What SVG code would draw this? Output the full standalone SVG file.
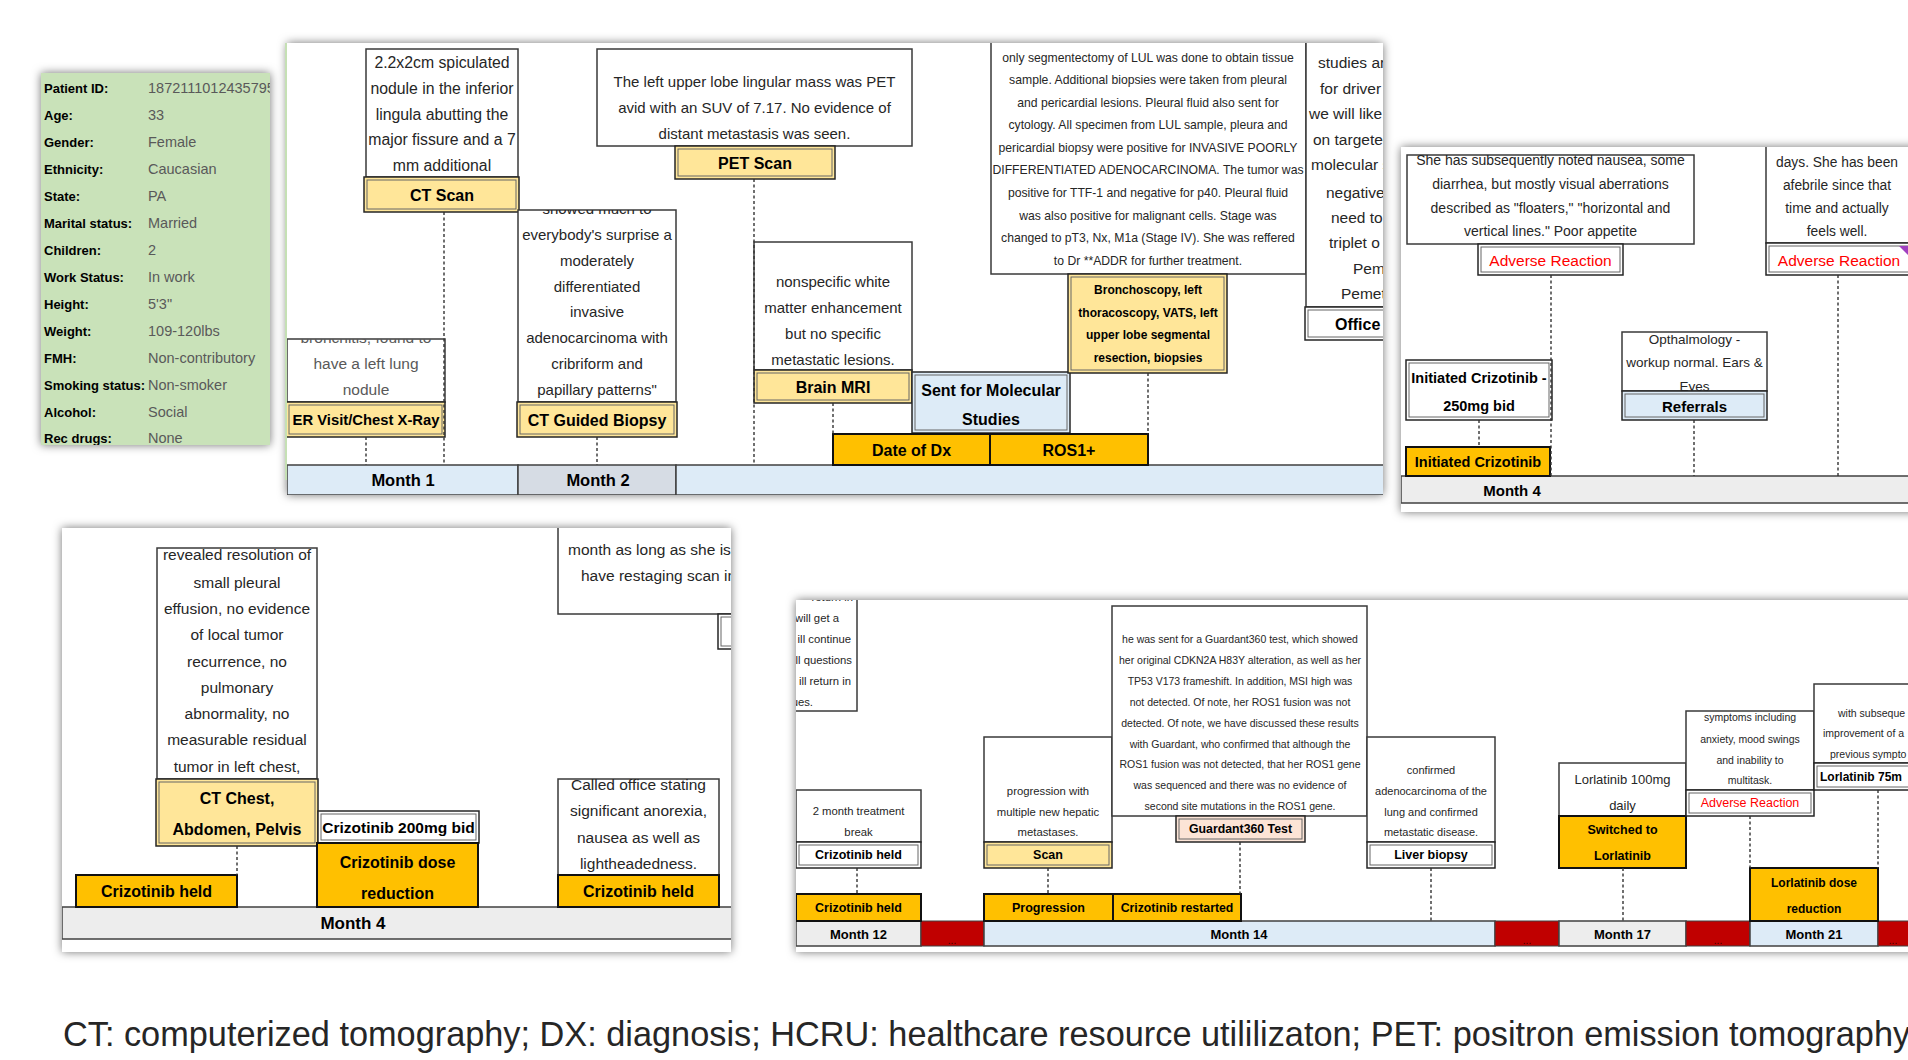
<svg xmlns="http://www.w3.org/2000/svg" width="1908" height="1060" viewBox="0 0 1908 1060">
<defs>
<filter id="sh" x="-10%" y="-10%" width="120%" height="120%"><feDropShadow dx="0" dy="0" stdDeviation="5" flood-color="#000" flood-opacity="0.55"/></filter>
<clipPath id="cPat"><rect x="41" y="73" width="229" height="372"/></clipPath>
<clipPath id="cTop"><rect x="287" y="43" width="1096" height="452"/></clipPath>
<clipPath id="cRt"><rect x="1401" y="147" width="507" height="365"/></clipPath>
<clipPath id="cBL"><rect x="62" y="528" width="669" height="424"/></clipPath>
<clipPath id="cBR"><rect x="796" y="600" width="1112" height="352"/></clipPath>
<clipPath id="kER"><rect x="287" y="339" width="158" height="63"/></clipPath>
<clipPath id="kBio"><rect x="518" y="210" width="158" height="192"/></clipPath>
<clipPath id="kAR1"><rect x="1407" y="155" width="287" height="89"/></clipPath>
<clipPath id="kRef"><rect x="1622" y="332" width="145" height="59"/></clipPath>
<clipPath id="kCTC"><rect x="157" y="548" width="160" height="231"/></clipPath>
<clipPath id="kCH"><rect x="558" y="779" width="161" height="96"/></clipPath>
<clipPath id="kAR3"><rect x="1686" y="711" width="128" height="79"/></clipPath>
<style>
.pn{fill:#fff;filter:url(#sh)}
.tb{fill:#fff;stroke:#3a3a3a;stroke-width:1.5}
.lo{stroke:#262626;stroke-width:1.5}
.li{fill:none;stroke:#666;stroke-width:1}
.ly{fill:#FFE699}
.lw{fill:#fff}
.lbl{fill:#DDEBF7}
.lpk{fill:#FCE4D6}
.or{fill:#FFC000;stroke:#111;stroke-width:2}
.red{fill:#C00000;stroke:#404040;stroke-width:1}
.mg{fill:#EDEDED;stroke:#404040;stroke-width:1.5}
.mb{fill:#DDEBF7;stroke:#404040;stroke-width:1.5}
.ms{fill:#D6DCE4;stroke:#404040;stroke-width:1.5}
.dt{stroke:#333;stroke-width:1.4;stroke-dasharray:3 2.5;fill:none}
text{font-family:'Liberation Sans',Arial,sans-serif;dominant-baseline:central}
.c{text-anchor:middle}
.e{text-anchor:end}
.d{fill:#262626}
.g{fill:#595959}
.b{font-weight:bold;fill:#000}
.r{fill:#FF0000}
</style>
</defs>
<rect x="0" y="0" width="1908" height="1060" fill="#fff"/>

<!-- Patient panel -->
<g id="patient-info">
<rect x="41" y="73" width="229" height="372" fill="#C9E2B9" filter="url(#sh)"/>
<g clip-path="url(#cPat)">
<g class="b" font-size="13">
<text x="44" y="88">Patient ID:</text><text x="44" y="115">Age:</text><text x="44" y="142">Gender:</text><text x="44" y="169">Ethnicity:</text><text x="44" y="196">State:</text><text x="44" y="223">Marital status:</text><text x="44" y="250">Children:</text><text x="44" y="277">Work Status:</text><text x="44" y="304">Height:</text><text x="44" y="331">Weight:</text><text x="44" y="358">FMH:</text><text x="44" y="385">Smoking status:</text><text x="44" y="412">Alcohol:</text><text x="44" y="438">Rec drugs:</text>
</g>
<g class="g" font-size="14.5">
<text x="148" y="88">18721110124357950</text><text x="148" y="115">33</text><text x="148" y="142">Female</text><text x="148" y="169">Caucasian</text><text x="148" y="196">PA</text><text x="148" y="223">Married</text><text x="148" y="250">2</text><text x="148" y="277">In work</text><text x="148" y="304">5'3"</text><text x="148" y="331">109-120lbs</text><text x="148" y="358">Non-contributory</text><text x="148" y="385">Non-smoker</text><text x="148" y="412">Social</text><text x="148" y="438">None</text>
</g>
</g>
</g>

<!-- Panel backgrounds -->
<rect class="pn" x="287" y="43" width="1096" height="452"/>
<rect class="pn" x="1401" y="147" width="520" height="365"/>
<rect class="pn" x="62" y="528" width="669" height="424"/>
<rect class="pn" x="796" y="600" width="1125" height="352"/>
<line x1="286" y1="43" x2="286" y2="480" stroke="#C5E0B4" stroke-width="2"/>

<!-- TOP PANEL -->
<g clip-path="url(#cTop)">
<g id="month-row-top">
<rect class="mb" x="287" y="465" width="231" height="30"/>
<rect class="ms" x="518" y="465" width="158" height="30"/>
<rect class="mb" x="676" y="465" width="720" height="30"/>
<text class="c b" font-size="16.5" x="403" y="480">Month 1</text>
<text class="c b" font-size="16.5" x="598" y="480">Month 2</text>
</g>
<g id="er-visit">
<rect class="tb" x="287" y="339" width="158" height="63"/>
<g clip-path="url(#kER)" class="c g" font-size="15.5"><text x="366" y="337">bronchitis, found to</text><text x="366" y="363">have a left lung</text><text x="366" y="389">nodule</text></g>
<rect class="lo ly" x="286" y="402" width="159" height="35"/><rect class="li" x="289" y="405" width="153" height="29"/>
<text class="c b" font-size="14.8" x="366" y="420">ER Visit/Chest X-Ray</text>
</g>
<g id="ct-scan">
<rect class="tb" x="366" y="49" width="152" height="128"/>
<g class="c d" font-size="15.8"><text x="442" y="62">2.2x2cm spiculated</text><text x="442" y="88">nodule in the inferior</text><text x="442" y="114">lingula abutting the</text><text x="442" y="139">major fissure and a 7</text><text x="442" y="165">mm additional</text></g>
<rect class="lo ly" x="364" y="177" width="155" height="35"/><rect class="li" x="367" y="180" width="149" height="29"/>
<text class="c b" font-size="16" x="442" y="195">CT Scan</text>
</g>
<g id="ct-guided-biopsy">
<rect class="tb" x="518" y="210" width="158" height="192"/>
<g clip-path="url(#kBio)" class="c d" font-size="15"><text x="597" y="208">showed much to</text><text x="597" y="234">everybody's surprise a</text><text x="597" y="260">moderately</text><text x="597" y="286">differentiated</text><text x="597" y="311">invasive</text><text x="597" y="337">adenocarcinoma with</text><text x="597" y="363">cribriform and</text><text x="597" y="389">papillary patterns"</text></g>
<rect class="lo ly" x="517" y="402" width="160" height="35"/><rect class="li" x="520" y="405" width="154" height="29"/>
<text class="c b" font-size="16" x="597" y="420">CT Guided Biopsy</text>
</g>
<g id="pet-scan">
<rect class="tb" x="597" y="49" width="315" height="97"/>
<g class="c d" font-size="15" xml:space="preserve"><text x="754.5" y="81">The left upper lobe lingular mass was PET</text><text x="754.5" y="107">avid with an SUV of 7.17.  No evidence of</text><text x="754.5" y="133">distant metastasis was seen.</text></g>
<rect class="lo ly" x="675" y="146" width="160" height="33"/><rect class="li" x="678" y="149" width="154" height="27"/>
<text class="c b" font-size="16" x="755" y="163">PET Scan</text>
</g>
<g id="brain-mri">
<rect class="tb" x="754" y="242" width="158" height="128"/>
<g class="c d" font-size="15"><text x="833" y="281">nonspecific white</text><text x="833" y="307">matter enhancement</text><text x="833" y="333">but no specific</text><text x="833" y="359">metastatic lesions.</text></g>
<rect class="lo ly" x="754" y="370" width="158" height="33"/><rect class="li" x="757" y="373" width="152" height="27"/>
<text class="c b" font-size="16" x="833" y="387">Brain MRI</text>
</g>
<g id="molecular-studies">
<rect class="lo lbl" x="912" y="372" width="158" height="61"/><rect class="li" x="915" y="375" width="152" height="55"/>
<text class="c b" font-size="16" x="991" y="390">Sent for Molecular</text>
<text class="c b" font-size="16" x="991" y="419">Studies</text>
</g>
<g id="date-of-dx">
<rect class="or" x="833" y="434" width="157" height="31"/>
<text class="c b" font-size="16" x="911.5" y="450">Date of Dx</text>
</g>
<g id="ros1">
<rect class="or" x="990" y="434" width="158" height="31"/>
<text class="c b" font-size="16" x="1069" y="450">ROS1+</text>
</g>
<g id="bronchoscopy">
<rect class="tb" x="991" y="35" width="315" height="239"/>
<g class="c d" font-size="12.2"><text x="1148" y="57.5">only segmentectomy of LUL was done to obtain tissue</text><text x="1148" y="80">sample. Additional biopsies were taken from pleural</text><text x="1148" y="103">and pericardial lesions. Pleural fluid also sent for</text><text x="1148" y="125">cytology. All specimen from LUL sample, pleura and</text><text x="1148" y="148">pericardial biopsy were positive for INVASIVE POORLY</text><text x="1148" y="170">DIFFERENTIATED ADENOCARCINOMA. The tumor was</text><text x="1148" y="193">positive for TTF-1 and negative for p40. Pleural fluid</text><text x="1148" y="216">was also positive for malignant cells. Stage was</text><text x="1148" y="238">changed to pT3, Nx, M1a (Stage IV). She was reffered</text><text x="1148" y="261">to Dr **ADDR for further treatment.</text></g>
<rect class="lo ly" x="1068" y="274" width="159" height="99"/><rect class="li" x="1071" y="277" width="153" height="93"/>
<g class="c b" font-size="12"><text x="1148" y="290">Bronchoscopy, left</text><text x="1148" y="313">thoracoscopy, VATS, left</text><text x="1148" y="335">upper lobe segmental</text><text x="1148" y="358">resection, biopsies</text></g>
</g>
<g id="office-visit">
<rect class="tb" x="1306" y="35" width="100" height="272"/>
<g class="d" font-size="15.5"><text x="1318" y="62">studies ar</text><text x="1320" y="88">for driver</text><text x="1309" y="113">we will like</text><text x="1313" y="139">on targeted</text><text x="1311" y="164">molecular s</text><text x="1326" y="192">negative</text><text x="1331" y="217">need to</text><text x="1329" y="242">triplet o</text><text x="1353" y="268">Peml</text><text x="1341" y="293">Pemetr</text></g>
<rect class="lo lw" x="1305" y="307" width="100" height="33"/><rect class="li" x="1308" y="310" width="94" height="27"/>
<text class="b" font-size="16" x="1335" y="324">Office</text>
</g>
</g>

<!-- RIGHT PANEL -->
<g clip-path="url(#cRt)">
<g id="month-row-right">
<rect class="mg" x="1401" y="476" width="520" height="27"/>
<text class="c b" font-size="15" x="1512" y="490">Month 4</text>
</g>
<g id="adverse-reaction-1">
<rect class="tb" x="1407" y="155" width="287" height="89"/>
<g clip-path="url(#kAR1)" class="c d" font-size="14"><text x="1550.5" y="160">She has subsequently noted nausea, some</text><text x="1550.5" y="184">diarrhea, but mostly visual aberrations</text><text x="1550.5" y="208">described as "floaters," "horizontal and</text><text x="1550.5" y="231">vertical lines." Poor appetite</text></g>
<rect class="lo lw" x="1478" y="244" width="145" height="31"/><rect class="li" x="1481" y="247" width="139" height="25"/>
<text class="c r" font-size="15.5" x="1550.5" y="260">Adverse Reaction</text>
</g>
<g id="initiated-crizotinib-250">
<rect class="lo lw" x="1406" y="360" width="146" height="60"/><rect class="li" x="1409" y="363" width="140" height="54"/>
<text class="c b" font-size="14.5" x="1479" y="378">Initiated Crizotinib -</text>
<text class="c b" font-size="14.5" x="1479" y="406">250mg bid</text>
</g>
<g id="initiated-crizotinib">
<rect class="or" x="1406" y="447" width="144" height="29"/>
<text class="c b" font-size="14.5" x="1478" y="462">Initiated Crizotinib</text>
</g>
<g id="referrals">
<rect class="tb" x="1622" y="332" width="145" height="59"/>
<g clip-path="url(#kRef)" class="c d" font-size="13.5"><text x="1694.5" y="339">Opthalmology -</text><text x="1694.5" y="362">workup normal. Ears &amp;</text><text x="1694.5" y="386">Eyes</text></g>
<rect class="lo lbl" x="1622" y="391" width="145" height="29"/><rect class="li" x="1625" y="394" width="139" height="23"/>
<text class="c b" font-size="15" x="1694.5" y="406">Referrals</text>
</g>
<g id="adverse-reaction-2">
<rect class="tb" x="1766" y="140" width="170" height="103"/>
<g class="c d" font-size="13.8" xml:space="preserve"><text x="1837" y="162">days.  She has been</text><text x="1837" y="185">afebrile since that</text><text x="1837" y="208">time and actually</text><text x="1837" y="231">feels well.</text></g>
<rect class="lo lw" x="1766" y="243" width="170" height="32"/><rect class="li" x="1769" y="246" width="164" height="26"/>
<text class="c r" font-size="15.5" x="1839" y="260">Adverse Reaction</text>
<path d="M1899 246 L1908 246 L1908 255 Z" fill="#A040C0"/>
</g>
</g>

<!-- BOTTOM-LEFT PANEL -->
<g clip-path="url(#cBL)">
<g id="month-row-bl">
<rect class="mg" x="62" y="907" width="680" height="32"/>
<text class="c b" font-size="17" x="353" y="923">Month 4</text>
</g>
<g id="ct-chest">
<rect class="tb" x="157" y="548" width="160" height="231"/>
<g clip-path="url(#kCTC)" class="c d" font-size="15.5"><text x="237" y="554">revealed resolution of</text><text x="237" y="582">small pleural</text><text x="237" y="608">effusion, no evidence</text><text x="237" y="634">of local tumor</text><text x="237" y="661">recurrence, no</text><text x="237" y="687">pulmonary</text><text x="237" y="713">abnormality, no</text><text x="237" y="739">measurable residual</text><text x="237" y="766">tumor in left chest,</text></g>
<rect class="lo ly" x="156" y="779" width="162" height="67"/><rect class="li" x="159" y="782" width="156" height="61"/>
<text class="c b" font-size="16" x="237" y="798">CT Chest,</text>
<text class="c b" font-size="16" x="237" y="829">Abdomen, Pelvis</text>
</g>
<g id="crizotinib-held-1">
<rect class="or" x="76" y="875" width="161" height="32"/>
<text class="c b" font-size="16" x="156.5" y="891">Crizotinib held</text>
</g>
<g id="crizotinib-200">
<rect class="lo lw" x="318" y="811" width="161" height="32"/><rect class="li" x="321" y="814" width="155" height="26"/>
<text class="c b" font-size="15.5" x="398.5" y="827">Crizotinib 200mg bid</text>
</g>
<g id="crizotinib-dose-reduction">
<rect class="or" x="317" y="843" width="161" height="64"/>
<text class="c b" font-size="16" x="397.5" y="862">Crizotinib dose</text>
<text class="c b" font-size="16" x="397.5" y="893">reduction</text>
</g>
<g id="restaging-note">
<rect class="tb" x="558" y="520" width="200" height="94"/>
<g class="d" font-size="15.5"><text x="568" y="549">month as long as she is</text><text x="581" y="575">have restaging scan in</text></g>
<rect class="lo lw" x="718" y="614" width="30" height="35"/><rect class="li" x="721" y="617" width="24" height="29"/>
</g>
<g id="crizotinib-held-2">
<rect class="tb" x="558" y="779" width="161" height="96"/>
<g clip-path="url(#kCH)" class="c d" font-size="15.5"><text x="638.5" y="784">Called office stating</text><text x="638.5" y="810">significant anorexia,</text><text x="638.5" y="837">nausea as well as</text><text x="638.5" y="863">lightheadedness.</text></g>
<rect class="or" x="558" y="875" width="161" height="32"/>
<text class="c b" font-size="16" x="638.5" y="891">Crizotinib held</text>
</g>
</g>

<!-- BOTTOM-RIGHT PANEL -->
<g clip-path="url(#cBR)">
<g id="month-row-br">
<rect class="mg" x="796" y="921" width="125" height="25"/>
<rect class="red" x="921" y="921" width="63" height="25"/>
<rect class="mb" x="984" y="921" width="511" height="25"/>
<rect class="red" x="1495" y="921" width="64" height="25"/>
<rect class="mg" x="1559" y="921" width="127" height="25"/>
<rect class="red" x="1686" y="921" width="64" height="25"/>
<rect class="mb" x="1750" y="921" width="128" height="25"/>
<rect class="red" x="1878" y="921" width="40" height="25"/>
<g class="c b" font-size="13"><text x="858.5" y="934">Month 12</text><text x="1239" y="934">Month 14</text><text x="1622.5" y="934">Month 17</text><text x="1814" y="934">Month 21</text></g>
<g class="c" font-size="10" fill="#3a0000"><text x="952" y="940">...</text><text x="1527" y="940">...</text><text x="1718" y="940">...</text><text x="1893" y="940">...</text></g>
</g>
<g id="return-note">
<rect class="tb" x="700" y="592" width="157" height="119"/>
<g class="e d" font-size="11.3"><text x="853" y="597">return in</text><text x="839" y="618">will get a</text><text x="851" y="639">ill continue</text><text x="852" y="660">ll questions</text><text x="851" y="681">ill return in</text><text x="813" y="702">ues.</text></g>
</g>
<g id="crizotinib-held-m12">
<rect class="tb" x="796" y="790" width="125" height="52"/>
<g class="c d" font-size="11.3"><text x="858.5" y="811">2 month treatment</text><text x="858.5" y="832">break</text></g>
<rect class="lo lw" x="796" y="842" width="125" height="26"/><rect class="li" x="799" y="845" width="119" height="20"/>
<text class="c b" font-size="12.5" x="858.5" y="855">Crizotinib held</text>
</g>
<g id="crizotinib-held-bar">
<rect class="or" x="796" y="894" width="125" height="27"/>
<text class="c b" font-size="12.5" x="858.5" y="907.5">Crizotinib held</text>
</g>
<g id="scan">
<rect class="tb" x="984" y="737" width="128" height="105"/>
<g class="c d" font-size="11.3"><text x="1048" y="791">progression with</text><text x="1048" y="812">multiple new hepatic</text><text x="1048" y="832">metastases.</text></g>
<rect class="lo ly" x="984" y="842" width="128" height="26"/><rect class="li" x="987" y="845" width="122" height="20"/>
<text class="c b" font-size="12.5" x="1048" y="855">Scan</text>
</g>
<g id="progression">
<rect class="or" x="984" y="894" width="129" height="27"/>
<text class="c b" font-size="12.5" x="1048.5" y="907.5">Progression</text>
</g>
<g id="crizotinib-restarted">
<rect class="or" x="1113" y="894" width="128" height="27"/>
<text class="c b" font-size="12.3" x="1177" y="907.5">Crizotinib restarted</text>
</g>
<g id="guardant360">
<rect class="tb" x="1112" y="606" width="255" height="210"/>
<g class="c d" font-size="10.5"><text x="1240" y="639">he was sent for a Guardant360 test, which showed</text><text x="1240" y="660">her original CDKN2A H83Y alteration, as well as her</text><text x="1240" y="681">TP53 V173 frameshift. In addition, MSI high was</text><text x="1240" y="702">not detected. Of note, her ROS1 fusion was not</text><text x="1240" y="723">detected. Of note, we have discussed these results</text><text x="1240" y="744">with Guardant, who confirmed that although the</text><text x="1240" y="764">ROS1 fusion was not detected, that her ROS1 gene</text><text x="1240" y="785">was sequenced and there was no evidence of</text><text x="1240" y="806">second site mutations in the ROS1 gene.</text></g>
<rect class="lo lpk" x="1176" y="816" width="129" height="26"/><rect class="li" x="1179" y="819" width="123" height="20"/>
<text class="c b" font-size="12.3" x="1240.5" y="829">Guardant360 Test</text>
</g>
<g id="liver-biopsy">
<rect class="tb" x="1367" y="737" width="128" height="105"/>
<g class="c d" font-size="11"><text x="1431" y="770">confirmed</text><text x="1431" y="791">adenocarcinoma of the</text><text x="1431" y="812">lung and confirmed</text><text x="1431" y="832">metastatic disease.</text></g>
<rect class="lo lw" x="1367" y="842" width="128" height="26"/><rect class="li" x="1370" y="845" width="122" height="20"/>
<text class="c b" font-size="12.5" x="1431" y="855">Liver biopsy</text>
</g>
<g id="switched-lorlatinib">
<rect class="tb" x="1559" y="763" width="127" height="53"/>
<g class="c d" font-size="13"><text x="1622.5" y="779">Lorlatinib 100mg</text><text x="1622.5" y="805">daily</text></g>
<rect class="or" x="1559" y="816" width="127" height="52"/>
<text class="c b" font-size="12.5" x="1622.5" y="830">Switched to</text>
<text class="c b" font-size="12.5" x="1622.5" y="856">Lorlatinib</text>
</g>
<g id="adverse-reaction-3">
<rect class="tb" x="1686" y="711" width="128" height="79"/>
<g clip-path="url(#kAR3)" class="c d" font-size="10.5"><text x="1750" y="717">symptoms including</text><text x="1750" y="739">anxiety, mood swings</text><text x="1750" y="760">and inability to</text><text x="1750" y="780">multitask.</text></g>
<rect class="lo lw" x="1686" y="790" width="128" height="26"/><rect class="li" x="1689" y="793" width="122" height="20"/>
<text class="c r" font-size="12.5" x="1750" y="803">Adverse Reaction</text>
</g>
<g id="lorlatinib-dose-reduction">
<rect class="or" x="1750" y="868" width="128" height="53"/>
<text class="c b" font-size="12" x="1814" y="883">Lorlatinib dose</text>
<text class="c b" font-size="12" x="1814" y="909">reduction</text>
</g>
<g id="lorlatinib-75">
<rect class="tb" x="1814" y="684" width="120" height="79"/>
<g class="d" font-size="10.5"><text x="1838" y="713">with subseque</text><text x="1823" y="733">improvement of a</text><text x="1830" y="754">previous sympto</text></g>
<rect class="lo lw" x="1814" y="763" width="120" height="27"/><rect class="li" x="1817" y="766" width="114" height="21"/>
<text class="b" font-size="12" x="1820" y="777">Lorlatinib 75m</text>
</g>
</g>

<!-- Connectors -->
<g id="connectors" class="dt">
<line x1="366" y1="437" x2="366" y2="465"/>
<line x1="444" y1="212" x2="444" y2="465"/>
<line x1="597" y1="437" x2="597" y2="465"/>
<line x1="754" y1="179" x2="754" y2="465"/>
<line x1="833" y1="403" x2="833" y2="434"/>
<line x1="1148" y1="373" x2="1148" y2="434"/>
<line x1="1551" y1="275" x2="1551" y2="476"/>
<line x1="1479" y1="420" x2="1479" y2="447"/>
<line x1="1694" y1="420" x2="1694" y2="476"/>
<line x1="1838" y1="275" x2="1838" y2="476"/>
<line x1="237" y1="846" x2="237" y2="875"/>
<line x1="857" y1="868" x2="857" y2="894"/>
<line x1="1048" y1="868" x2="1048" y2="894"/>
<line x1="1240" y1="842" x2="1240" y2="894"/>
<line x1="1431" y1="868" x2="1431" y2="921"/>
<line x1="1623" y1="868" x2="1623" y2="921"/>
<line x1="1750" y1="816" x2="1750" y2="868"/>
<line x1="1878" y1="790" x2="1878" y2="868"/>
</g>

<text id="caption" x="63" y="1034" font-size="34.3" fill="#262626">CT: computerized tomography; DX: diagnosis; HCRU: healthcare resource utililizaton; PET: positron emission tomography</text>
</svg>
